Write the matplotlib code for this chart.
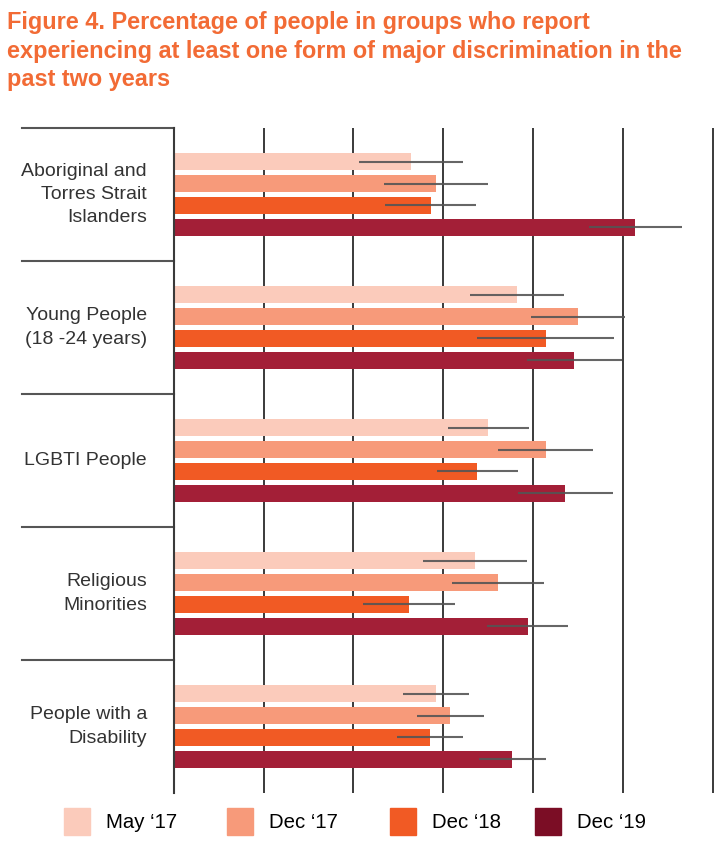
import numpy as np
import matplotlib
matplotlib.use("Agg")
import matplotlib.pyplot as plt
from matplotlib.patches import Rectangle

# data (percent)
groups = ["Aboriginal and\nTorres Strait\nIslanders", "Young People\n(18 -24 years)",
          "LGBTI People", "Religious\nMinorities", "People with a\nDisability"]
series = ["May \u201817", "Dec \u201817", "Dec \u201818", "Dec \u201819"]

may17 = [13.2, 19.1, 17.5, 16.75, 14.6]
dec17 = [14.6, 22.5, 20.7, 18.05, 15.4]
dec18 = [14.3, 20.7, 16.9, 13.1, 14.25]
dec19 = [25.7, 22.3, 21.8, 19.7, 18.85]

may17_err = [2.9, 2.6, 2.25, 2.9, 1.85]
dec17_err = [2.9, 2.6, 2.65, 2.55, 1.85]
dec18_err = [2.55, 3.8, 2.25, 2.55, 1.85]
dec19_err = [2.6, 2.65, 2.65, 2.25, 1.85]

bar_colors = ["#fbcbbb", "#f79a7a", "#f15a24", "#a31f37"]
legend_colors = ["#fbcbbb", "#f79a7a", "#f15a24", "#7b0d25"]

W, H = 720, 855
fig = plt.figure(figsize=(W / 100, H / 100), dpi=100)


def box(x0, y0, x1, y1):
    # pixel box -> figure fraction
    return [x0 / W, 1 - y1 / H, (x1 - x0) / W, (y1 - y0) / H]


ax = fig.add_axes(box(173.8, 128, 715.3, 793))

values = [may17, dec17, dec18, dec19]
errors = [may17_err, dec17_err, dec18_err, dec19_err]
y = np.arange(len(groups))
slot = 0.165
for j in range(4):
    pos = y + (j - 1.5) * slot
    ax.barh(pos, values[j], height=0.13, color=bar_colors[j], zorder=2)
    ax.errorbar(values[j], pos, xerr=errors[j], fmt="none", ecolor="#555555",
                elinewidth=1.5, capsize=0, alpha=0.9, zorder=3)

ax.set_xlim(0, 30.15)
ax.set_ylim(len(groups) - 0.5, -0.5)
ax.set_xticks(np.arange(5, 31, 5))
ax.set_yticks([])
ax.grid(axis="x", color="#3a3a3a", linewidth=1.4, zorder=1)
ax.tick_params(axis="x", length=0, labelbottom=False)
for s in ["top", "right", "bottom"]:
    ax.spines[s].set_visible(False)
ax.spines["left"].set_color("#3a3a3a")
ax.spines["left"].set_linewidth(1.5)

# separators and labels in the left column
ytr = ax.get_yaxis_transform()
for k in range(len(groups)):
    ax.plot([-0.28, 0], [k - 0.5, k - 0.5], color="#555555", linewidth=1.5,
            transform=ytr, clip_on=False)
    ax.text(-0.0495, k, groups[k], transform=ytr, ha="right", va="center",
            fontsize=14, color="#333333", family="Liberation Sans",
            linespacing=1.5, multialignment="right")

# title
title_lines = ["Figure 4. Percentage of people in groups who report",
               "experiencing at least one form of major discrimination in the",
               "past two years"]
for k, line in enumerate(title_lines):
    fig.text(7 / W, 1 - (29 + 28.7 * k) / H, line, ha="left", va="baseline",
             fontsize=16.9, fontweight="bold", color="#f26b35",
             family="Liberation Sans")

# legend
sq_x = [64, 227, 390, 535]
tx_x = [106, 269, 432, 577]
for j in range(4):
    fig.add_artist(Rectangle((sq_x[j] / W, 1 - 835 / H), 26 / W, 27 / H,
                             transform=fig.transFigure, color=legend_colors[j]))
    fig.text(tx_x[j] / W, 1 - 822 / H, series[j], ha="left", va="center",
             fontsize=14.7, color="#000000", family="Liberation Sans")

fig.savefig("out.png", dpi=100)
